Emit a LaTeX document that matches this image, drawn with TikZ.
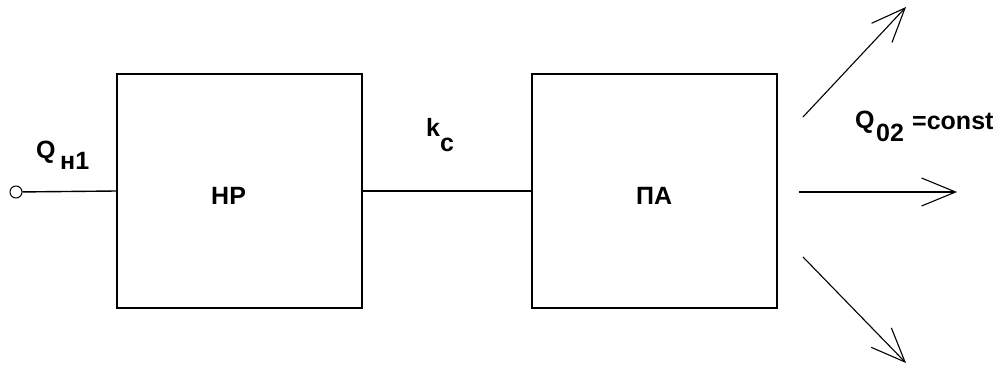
\documentclass[tikz,border=0pt]{standalone}
\usepackage{fontspec}
\setmainfont{Liberation Sans}
\usetikzlibrary{arrows.meta}
\tikzset{
  blockbox/.style={draw, line width=1.6pt, minimum width=245pt, minimum height=234pt, inner sep=0pt},
  lbl/.style={inner sep=0pt, anchor=base west, font=\fontsize{25}{30}\selectfont\bfseries},
  wire/.style={line width=1.4pt},
  outarrow/.style={line width=1.1pt, -{Straight Barb[length=34pt, width=28pt, line width=1.1pt]}},
  terminal/.style={circle, draw, line width=1pt, minimum size=12pt, inner sep=0pt, fill=white}
}
\begin{document}
\begin{tikzpicture}[x=1pt,y=-1pt]
\useasboundingbox (0,0) rectangle (1002,372);
\node[blockbox] (nr) at (239.5,191) {};
\node[blockbox] (pa) at (654.5,191) {};
\node[terminal] (in) at (16,192) {};
\draw[wire] (in) -- (nr.west);
\draw[wire] (nr.east) -- (pa.west);
\node[lbl] (nrt) at (211,204) {НР};
\node[lbl] (pat) at (636,204) {ПА};
\node[lbl] (q1) at (36,158) {Q};
\node[lbl] (q1s) at (60,169) {н1};
\node[lbl] (k) at (426,136) {k};
\node[lbl] (ks) at (440,151) {c};
\node[lbl] (q2) at (855,128) {Q};
\node[lbl] (q2s) at (876,141) {02};
\node[lbl] (q2c) at (912,129) {=const};
\coordinate (a1s) at (803,117);
\coordinate (a1e) at (906,7);
\coordinate (a2s) at (799,192);
\coordinate (a2e) at (957,192);
\coordinate (a3s) at (803,257);
\coordinate (a3e) at (906,363);
\draw[outarrow] (a1s) -- (a1e);
\draw[outarrow] (a2s) -- (a2e);
\draw[outarrow] (a3s) -- (a3e);
\end{tikzpicture}
\end{document}
